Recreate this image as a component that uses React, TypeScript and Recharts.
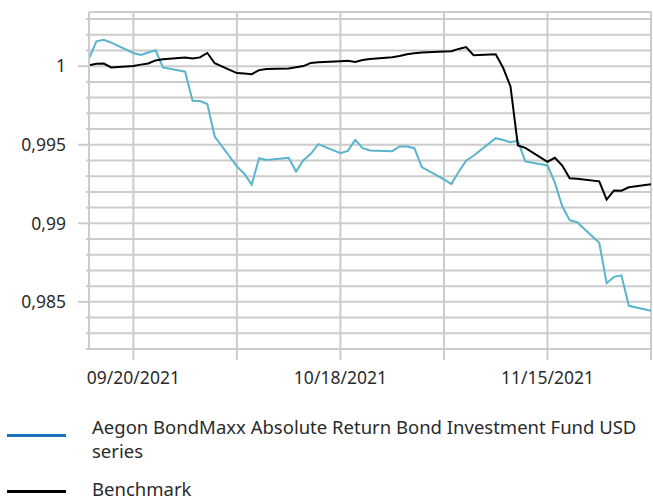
import React from "react";
import { LineChart, Line, XAxis, YAxis, CartesianGrid, ReferenceLine } from "recharts";

const dates = [
  "2021-09-14", "2021-09-15", "2021-09-16", "2021-09-17", "2021-09-20", "2021-09-21", "2021-09-22", "2021-09-23", "2021-09-24",
  "2021-09-27", "2021-09-28", "2021-09-29", "2021-09-30", "2021-10-01", "2021-10-04", "2021-10-05", "2021-10-06", "2021-10-07",
  "2021-10-08", "2021-10-11", "2021-10-12", "2021-10-13", "2021-10-14", "2021-10-15", "2021-10-18", "2021-10-19", "2021-10-20",
  "2021-10-21", "2021-10-22", "2021-10-25", "2021-10-26", "2021-10-27", "2021-10-28", "2021-10-29", "2021-11-01", "2021-11-02",
  "2021-11-03", "2021-11-04", "2021-11-05", "2021-11-08", "2021-11-09", "2021-11-10", "2021-11-11", "2021-11-12", "2021-11-15",
  "2021-11-16", "2021-11-17", "2021-11-18", "2021-11-19", "2021-11-22", "2021-11-23", "2021-11-24", "2021-11-25", "2021-11-26",
  "2021-11-29",
];

const fundValues = [
  1.00049, 1.00158, 1.00168, 1.0015, 1.00084, 1.00072, 1.00087, 1.00101, 0.99992,
  0.99965, 0.9978, 0.99778, 0.99759, 0.99552, 0.99362, 0.99316, 0.99246, 0.99414,
  0.99403, 0.99417, 0.9933, 0.99402, 0.99442, 0.99504, 0.99447, 0.99461, 0.99531,
  0.99478, 0.99463, 0.99459, 0.99489, 0.99489, 0.99478, 0.99358, 0.99279, 0.9925,
  0.99328, 0.99398, 0.9943, 0.99542, 0.9953, 0.99516, 0.99525, 0.99394, 0.99368,
  0.99259, 0.99108, 0.9902, 0.99007, 0.98876, 0.98619, 0.98659, 0.98669, 0.98475,
  0.98444,
];

const benchmarkValues = [
  1.00006, 1.00015, 1.00017, 0.99992, 1.00002, 1.0001, 1.00017, 1.00037, 1.00044,
  1.00055, 1.00049, 1.00056, 1.00084, 1.00019, 0.99956, 0.99954, 0.99949, 0.99975,
  0.99982, 0.99986, 0.99994, 1.00001, 1.00021, 1.00025, 1.00032, 1.00034, 1.00027,
  1.0004, 1.00046, 1.00057, 1.00065, 1.00076, 1.00082, 1.00087, 1.00093, 1.00095,
  1.0011, 1.00122, 1.0007, 1.00076, 0.9999, 0.99871, 0.99495, 0.9948, 0.99392,
  0.99417, 0.99368, 0.99287, 0.99284, 0.99267, 0.99151, 0.99209, 0.99208, 0.99229,
  0.99249,
];

const xTickDates = ["2021-09-20", "2021-10-04", "2021-10-18", "2021-11-01", "2021-11-15", "2021-11-29"];
const xLabeledDates = ["2021-09-20", "2021-10-18", "2021-11-15"];

const yTicks = [
  0.982, 0.983, 0.984, 0.985, 0.986, 0.987, 0.988, 0.989, 0.99, 0.991, 0.992,
  0.993, 0.994, 0.995, 0.996, 0.997, 0.998, 0.999, 1, 1.001, 1.002, 1.003,
];
const yLabeledTicks = [0.985, 0.99, 0.995, 1];
const yLabels = ["0,985", "0,99", "0,995", "1"];

const xDomainDates = ["2021-09-14", "2021-11-29"];
const yDomain = [0.982, 1.00345];

const seriesNames = ["Aegon BondMaxx Absolute Return Bond Investment Fund USD", "series", "Benchmark"];

const toTime = (s: string) => {
  const [y, m, d] = s.split("-").map(Number);
  return Date.UTC(y, m - 1, d);
};

const data = dates.map((d, i) => ({ t: toTime(d), fund: fundValues[i], bench: benchmarkValues[i] }));

const FONT = "'Noto Sans', sans-serif";
const TEXT = "#2b2b2b";
const GRID = "#cccccc";
const TICK_SIZE = 11;
const TICK_MARGIN = 12;
const TICK_FONT = 17.5;

const labeledX = xLabeledDates.map(toTime);

const fmtDate = (t: number) => {
  const d = new Date(t);
  const mm = String(d.getUTCMonth() + 1).padStart(2, "0");
  const dd = String(d.getUTCDate()).padStart(2, "0");
  return `${mm}/${dd}/${d.getUTCFullYear()}`;
};

const XTick = (props: any) => {
  const { x, y, payload } = props;
  const lineTop = y - TICK_MARGIN - TICK_SIZE;
  const show = labeledX.includes(payload.value);
  return (
    <g>
      <line x1={x} x2={x} y1={lineTop} y2={lineTop + TICK_SIZE} stroke={GRID} strokeWidth={2} />
      {show && (
        <text x={x} y={y} dy="0.71em" textAnchor="middle" fill={TEXT} fontSize={TICK_FONT} fontFamily={FONT}>
          {fmtDate(payload.value)}
        </text>
      )}
    </g>
  );
};

const YTick = (props: any) => {
  const { x, y, payload } = props;
  const axisX = x + TICK_MARGIN + TICK_SIZE;
  const idx = yLabeledTicks.findIndex((v) => Math.abs(v - payload.value) < 1e-7);
  const major = idx >= 0;
  return (
    <g>
      <line x1={major ? axisX - TICK_SIZE : axisX - 3} x2={axisX} y1={y} y2={y} stroke={GRID} strokeWidth={2} />
      {major && (
        <text x={x} y={y} dy="0.355em" textAnchor="end" fill={TEXT} fontSize={TICK_FONT} fontFamily={FONT}>
          {yLabels[idx]}
        </text>
      )}
    </g>
  );
};

export default function App() {
  return (
    <div style={{ position: "absolute", left: 0, top: 0, width: 653, height: 500, background: "#fff", fontFamily: FONT, overflow: "hidden" }}>
      <LineChart width={653} height={400} data={data} margin={{ top: 12, right: 2, bottom: 0, left: 0 }}>
        <CartesianGrid stroke={GRID} strokeWidth={2} />
        <ReferenceLine y={yDomain[1]} stroke={GRID} strokeWidth={2} />
        <XAxis
          dataKey="t"
          type="number"
          scale="time"
          domain={xDomainDates.map(toTime)}
          ticks={xTickDates.map(toTime)}
          tick={<XTick />}
          tickLine={false}
          tickSize={TICK_SIZE}
          tickMargin={TICK_MARGIN}
          axisLine={{ stroke: GRID, strokeWidth: 2 }}
          height={51}
          interval={0}
          allowDataOverflow
        />
        <YAxis
          type="number"
          domain={yDomain}
          ticks={yTicks}
          tick={<YTick />}
          tickLine={false}
          tickSize={TICK_SIZE}
          tickMargin={TICK_MARGIN}
          axisLine={{ stroke: GRID, strokeWidth: 2 }}
          width={89}
          interval={0}
          allowDataOverflow
        />
        <Line type="linear" dataKey="fund" stroke="#5ab4cc" strokeWidth={2} dot={false} isAnimationActive={false} />
        <Line type="linear" dataKey="bench" stroke="#000000" strokeWidth={2} dot={false} isAnimationActive={false} />
      </LineChart>
      <div style={{ position: "absolute", left: 7, top: 434, width: 59, height: 3, background: "#1a73bd" }} />
      <div style={{ position: "absolute", left: 92, top: 415, fontSize: 18.5, lineHeight: "24px", color: TEXT, whiteSpace: "nowrap" }}>
        {seriesNames[0]}
        <br />
        {seriesNames[1]}
      </div>
      <div style={{ position: "absolute", left: 7, top: 490, width: 59, height: 3, background: "#000" }} />
      <div style={{ position: "absolute", left: 92, top: 477, fontSize: 18.5, lineHeight: "24px", color: TEXT, whiteSpace: "nowrap" }}>
        {seriesNames[2]}
      </div>
    </div>
  );
}
